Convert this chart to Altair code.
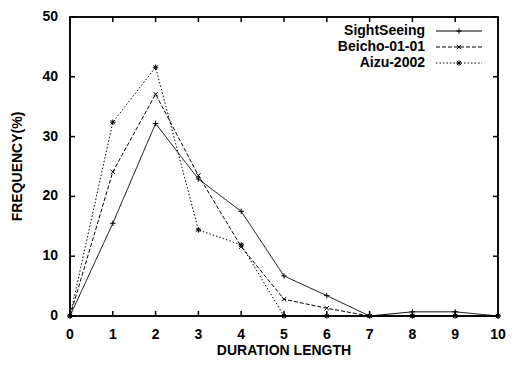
import altair as alt
import pandas as pd

durations = list(range(11))
series_names = ["SightSeeing", "Beicho-01-01", "Aizu-2002"]
sight = [0, 15.5, 32.2, 22.9, 17.5, 6.7, 3.4, 0, 0.7, 0.7, 0]
beicho = [0, 24.1, 37.1, 23.5, 11.6, 2.8, 1.3, 0, 0, 0, 0]
aizu = [0, 32.4, 41.6, 14.4, 11.9, 0, 0, 0, 0, 0, 0]
x_ticks = list(range(11))
y_ticks = [0, 10, 20, 30, 40, 50]
x_title = "DURATION LENGTH"
y_title = "FREQUENCY(%)"

W, H = 428, 299
FONT = "Liberation Sans"

rows = []
for name, vals in zip(series_names, [sight, beicho, aizu]):
    for d, v in zip(durations, vals):
        rows.append({"series": name, "duration": d, "freq": v})
df = pd.DataFrame(rows)

plus = "M-1,0L1,0M0,-1L0,1"
cross = "M-0.8,-0.8L0.8,0.8M-0.8,0.8L0.8,-0.8"
star = "M-1,0L1,0M0,-1L0,1M-0.75,-0.75L0.75,0.75M-0.75,0.75L0.75,-0.75"
shapes = [plus, cross, star]
dashes = [[1, 0], [4, 2], [1.5, 2]]

xs = alt.Scale(domain=[0, 10], nice=False)
ys = alt.Scale(domain=[0, 50], nice=False)
X = lambda f: alt.X(f, scale=xs, axis=None)
Y = lambda f: alt.Y(f, scale=ys, axis=None)

# frame and inward ticks (gnuplot style)
xt = pd.DataFrame({"v": x_ticks})
yt = pd.DataFrame({"v": y_ticks})
tk = 5
one_row = pd.DataFrame({"k": [0]})
frame = alt.Chart(one_row).mark_rect(filled=False, stroke="black", strokeWidth=1.5).encode(
    x=alt.value(0), x2=alt.value(W), y=alt.value(0), y2=alt.value(H))
ticks = [
    alt.Chart(xt).mark_rule(color="black", strokeWidth=1.5).encode(
        x=X("v:Q"), y=alt.value(H), y2=alt.value(H - tk)),
    alt.Chart(xt).mark_rule(color="black", strokeWidth=1.5).encode(
        x=X("v:Q"), y=alt.value(0), y2=alt.value(tk)),
    alt.Chart(yt).mark_rule(color="black", strokeWidth=1.5).encode(
        y=Y("v:Q"), x=alt.value(0), x2=alt.value(tk)),
    alt.Chart(yt).mark_rule(color="black", strokeWidth=1.5).encode(
        y=Y("v:Q"), x=alt.value(W), x2=alt.value(W - tk)),
]

# axis labels and titles as text marks
txt = dict(font=FONT, fontWeight="bold", fontSize=14, color="black")
axes = [
    alt.Chart(xt).mark_text(align="center", baseline="middle", **txt).encode(
        x=X("v:Q"), y=alt.value(H + 19), text=alt.Text("v:Q")),
    alt.Chart(yt).mark_text(align="right", baseline="middle", **txt).encode(
        y=Y("v:Q"), x=alt.value(-12), text=alt.Text("v:Q")),
    alt.Chart(pd.DataFrame({"t": [x_title]})).mark_text(align="center", baseline="middle", **txt).encode(
        x=alt.value(W / 2), y=alt.value(H + 35), text="t:N"),
    alt.Chart(pd.DataFrame({"t": [y_title]})).mark_text(align="center", baseline="middle", angle=270, **txt).encode(
        x=alt.value(-52), y=alt.value(H / 2), text="t:N"),
]

layers = []
for i, name in enumerate(series_names):
    d = df[df.series == name].reset_index(drop=True)
    base = alt.Chart(d)
    line = base.mark_line(color="black", strokeWidth=1, strokeDash=dashes[i]).encode(
        x=X("duration:Q"), y=Y("freq:Q"))
    pts = base.mark_point(shape=shapes[i], filled=False, color="black", size=30, strokeWidth=1,
                          opacity=1).encode(x=X("duration:Q"), y=Y("freq:Q"))
    layers += [line, pts]

# gnuplot-style key (label left, sample right)
leg = []
for i, name in enumerate(series_names):
    yy = 14 + i * 16
    one = pd.DataFrame({"series": [name]})
    leg.append(alt.Chart(one).mark_text(align="right", baseline="middle", **txt).encode(
        text="series:N", x=alt.value(355), y=alt.value(yy)))
    leg.append(alt.Chart(one).mark_rule(color="black", strokeWidth=1, strokeDash=dashes[i]).encode(
        x=alt.value(366), x2=alt.value(412), y=alt.value(yy)))
    leg.append(alt.Chart(one).mark_point(shape=shapes[i], filled=False, color="black", size=30,
                                         strokeWidth=1, opacity=1).encode(
        x=alt.value(389), y=alt.value(yy)))

chart = alt.layer(frame, *ticks, *axes, *layers, *leg).properties(
    width=W, height=H,
    autosize=alt.AutoSizeParams(type="none"),
    padding={"left": 62, "top": 9, "right": 8, "bottom": 42},
).configure_view(stroke="black", strokeWidth=1.5)

chart.save("out.html", embed_options={"renderer": "svg", "actions": False})
